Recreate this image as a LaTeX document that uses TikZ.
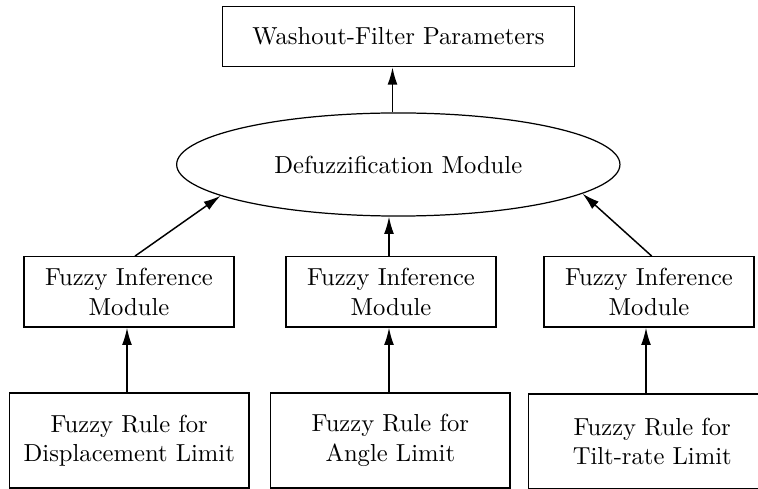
\documentclass[tikz,border=0pt]{standalone}
\usetikzlibrary{shapes.geometric,arrows.meta}
\begin{document}
\begin{tikzpicture}[x=0.4065pt,y=-0.4065pt,
  box/.style={draw,line width=0.5pt,inner sep=0pt,align=center,font=\normalsize},
  arr/.style={line width=0.6pt,-{Latex[length=7pt,width=4pt]}}]
\clip (0,0) rectangle (758,489);
% top
\node[box,minimum width=142.9pt,minimum height=24.4pt] (top) at (398.5,36.7) {Washout-Filter Parameters};
% ellipse
\node[draw,ellipse,line width=0.5pt,inner sep=0pt,minimum width=180.2pt,minimum height=41.9pt] (def) at (398.3,164.5) {Defuzzification Module};
% middle boxes
\node[box,minimum width=85.4pt,minimum height=28.6pt] (m1) at (129,291.9) {Fuzzy Inference\\Module};
\node[box,minimum width=85.4pt,minimum height=28.6pt] (m2) at (391,291.9) {Fuzzy Inference\\Module};
\node[box,minimum width=85.4pt,minimum height=28.6pt] (m3) at (649,291.9) {Fuzzy Inference\\Module};
% bottom boxes
\node[box,minimum width=97.4pt,minimum height=38.6pt] (b1) at (129.25,440.5) {Fuzzy Rule for\\Displacement Limit};
\node[box,minimum width=97.3pt,minimum height=38.6pt] (b2) at (390.35,440.5) {Fuzzy Rule for\\Angle Limit};
\node[box,minimum width=100.6pt,minimum height=38.6pt] (b3) at (652.25,441.5) {Fuzzy Rule for\\Tilt-rate Limit};
% arrow x positions
\coordinate (ax) at (392.5,0);
\coordinate (bx) at (389,0);
\coordinate (lx) at (127,0);
\coordinate (rx) at (646,0);
\coordinate (ls) at (135,0);
\coordinate (rs) at (651.7,0);
% connectors
\draw[arr] (def.north -| ax) -- (top.south -| ax);
\draw[arr] (m1.north -| ls) -- (def.190);
\draw[arr] (m2.north -| bx) -- (def.south -| bx);
\draw[arr] (m3.north -| rs) -- (def.351);
\draw[arr] (b1.north -| lx) -- (m1.south -| lx);
\draw[arr] (b2.north -| bx) -- (m2.south -| bx);
\draw[arr] (b3.north -| rx) -- (m3.south -| rx);
\end{tikzpicture}
\end{document}
